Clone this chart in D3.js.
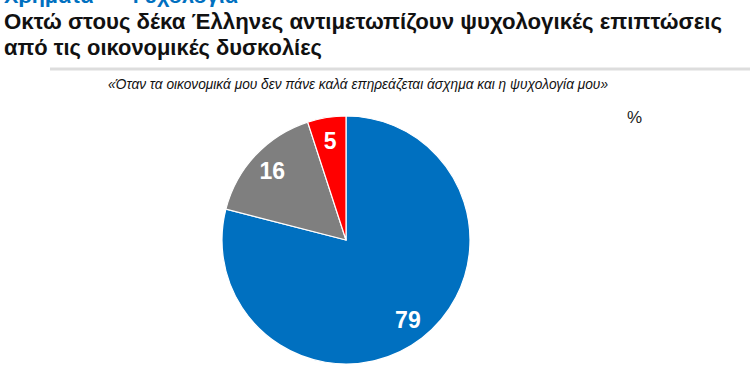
<!DOCTYPE html>
<html>
<head>
<meta charset="utf-8">
<script src="https://cdn.jsdelivr.net/npm/d3@7"></script>
<style>
  body { margin: 0; background: #fff; }
  svg { display: block; }
</style>
</head>
<body>
<div id="chart"></div>
<script>
const width = 750;
const height = 375;

// data
const categories = ['Συμφωνώ', 'Διαφωνώ', 'ΔΓ/ΔΑ'];
const values = [79, 16, 5];
const colors = ['#0070C0', '#7F7F7F', '#FF0000'];

const kicker = 'Χρήματα — Ψυχολογία';
const titleLines = [
  'Οκτώ στους δέκα Έλληνες αντιμετωπίζουν ψυχολογικές επιπτώσεις',
  'από τις οικονομικές δυσκολίες'
];
const question = '«Όταν τα οικονομικά μου δεν πάνε καλά επηρεάζεται άσχημα και η ψυχολογία μου»';

const cx = 346;
const cy = 240;
const radius = 124;
const labelRadius = 101;
const titleFont = '"Liberation Sans Narrow", "Arial Narrow", "Liberation Sans", Arial, sans-serif';

const svg = d3.select('#chart')
  .append('svg')
  .attr('width', width)
  .attr('height', height);

// kicker, cropped at the top edge as in the source slide
svg.append('text')
  .attr('x', 4)
  .attr('y', 3)
  .attr('fill', '#0070C0')
  .attr('textLength', 234)
  .attr('lengthAdjust', 'spacingAndGlyphs')
  .style('font-family', titleFont)
  .style('font-weight', 'bold')
  .style('font-size', '21px')
  .text(kicker);

const titleWidths = [718, 318];
svg.selectAll('.title')
  .data(titleLines).enter()
  .append('text')
  .attr('class', 'title')
  .attr('x', 4)
  .attr('y', (d, i) => 29 + i * 26)
  .attr('fill', '#111')
  .attr('textLength', (d, i) => titleWidths[i])
  .attr('lengthAdjust', 'spacingAndGlyphs')
  .style('font-family', titleFont)
  .style('font-weight', 'bold')
  .style('font-size', '22px')
  .text(d => d);

// divider line
svg.append('line')
  .attr('x1', 50).attr('x2', width)
  .attr('y1', 69).attr('y2', 69)
  .attr('stroke', '#ddd')
  .attr('stroke-width', 3);

svg.append('text')
  .attr('x', 108)
  .attr('y', 89)
  .attr('fill', '#111')
  .attr('textLength', 500)
  .attr('lengthAdjust', 'spacingAndGlyphs')
  .style('font-family', '"Liberation Sans", Arial, sans-serif')
  .style('font-style', 'italic')
  .style('font-size', '14px')
  .text(question);

svg.append('text')
  .attr('x', 627)
  .attr('y', 123)
  .attr('fill', '#222')
  .style('font-family', '"Liberation Sans", Arial, sans-serif')
  .style('font-size', '17px')
  .text('%');

const pie = d3.pie().sort(null).value(d => d);
const arcs = pie(values);
const arc = d3.arc().innerRadius(0).outerRadius(radius);
const labelArc = d3.arc().innerRadius(labelRadius).outerRadius(labelRadius);

const g = svg.append('g')
  .attr('transform', `translate(${cx},${cy})`);

g.selectAll('.slice')
  .data(arcs).enter()
  .append('path')
  .attr('class', 'slice')
  .attr('d', arc)
  .attr('fill', (d, i) => colors[i])
  .attr('stroke', '#fff')
  .attr('stroke-width', 1.2);

g.selectAll('.label')
  .data(arcs).enter()
  .append('text')
  .attr('class', 'label')
  .attr('transform', d => `translate(${labelArc.centroid(d)})`)
  .attr('text-anchor', 'middle')
  .attr('dy', '0.36em')
  .attr('fill', '#fff')
  .style('font-family', '"Liberation Sans", Arial, sans-serif')
  .style('font-weight', 'bold')
  .style('font-size', '23px')
  .text(d => d.data);
</script>
</body>
</html>
